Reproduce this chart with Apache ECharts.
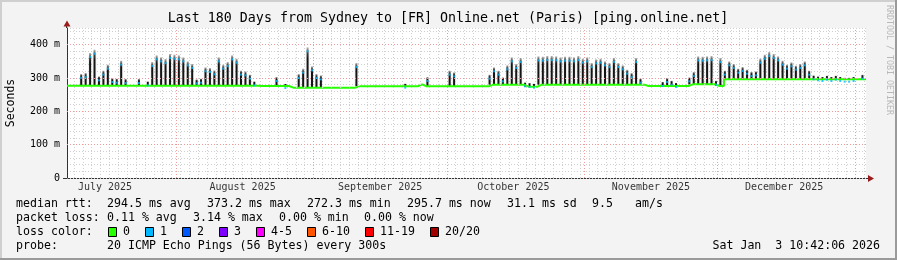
<!DOCTYPE html>
<html><head><meta charset="utf-8">
<script src="https://cdn.jsdelivr.net/npm/echarts@6/dist/echarts.min.js"></script>
<style>html,body{margin:0;padding:0;background:#f3f3f3}#c{width:897px;height:260px}</style>
</head><body><div id="c"></div>
<script>
// ---------- data ----------
const chartTitle = 'Last 180 Days from Sydney to [FR] Online.net (Paris) [ping.online.net]';
const yAxisName = 'Seconds';
const startTime = '2025-07-07T10:42:06Z';
const endTime = '2026-01-03T10:42:06Z';
const yTickValues = [0, 100, 200, 300, 400];
const monthStarts = ['2025-08-01', '2025-09-01', '2025-10-01', '2025-11-01', '2025-12-01', '2026-01-01'];
const monthLabels = ['July 2025', 'August 2025', 'September 2025', 'October 2025', 'November 2025', 'December 2025'];
const monthLabelDates = ['2025-07-16', '2025-08-16', '2025-09-16', '2025-10-16', '2025-11-16', '2025-12-16'];

// daily baseline of the median RTT (ms), day 0 = 7 Jul 2025
const baseline = [
  277,277,277,277,277,277,277,277,277,277,
  277,277,277,277,277,277,277,277,277,277,
  277,277,277,277,277,277,277,277,277,277,
  277,277,277,277,277,277,277,277,277,277,
  277,277,277,276,276,276,276,276,276,276,
  271,271,271,271,271,271,271,271,271,271,
  271,271,271,271,271,275,275,275,275,275,
  275,275,275,275,275,275,275,275,275,281,
  275,275,275,275,275,275,275,275,275,275,
  275,275,275,275,275,280,280,280,280,280,
  280,280,280,274,274,274,280,280,280,280,
  280,280,280,280,280,280,280,280,280,280,
  280,280,280,280,280,280,280,280,280,280,
  276,276,276,276,276,276,276,276,276,276,
  281,281,281,281,281,281,276,276,296,296,
  296,296,296,296,296,296,296,296,296,296,
  296,296,296,296,296,296,296,296,296,296,
  296,296,296,296,296,296,296,296,296,296
];
// daily peak of the smoke (ms), 0 = no peak that day
const peak = [
  0,0,0,312,315,375,385,305,322,340,
  300,298,352,297,0,0,297,0,290,348,
  368,362,357,372,370,368,362,350,342,296,
  298,332,330,323,362,340,348,368,358,322,
  320,310,290,0,0,0,0,303,0,282,
  0,0,312,328,392,335,312,308,0,0,
  0,0,0,0,0,345,0,0,0,0,
  0,0,0,0,0,0,283,0,0,0,
  0,303,0,0,0,0,322,317,0,0,
  0,0,0,0,0,310,332,322,302,338,
  362,342,360,287,285,283,365,364,366,366,
  365,362,364,364,362,366,358,362,345,356,
  358,350,345,360,345,338,325,315,360,298,
  0,0,0,0,288,300,292,285,0,0,
  302,318,365,364,365,366,292,360,322,350,
  342,328,333,325,318,320,358,370,378,372,
  365,352,340,347,337,342,350,322,308,305,
  303,307,303,307,303,301,301,303,0,310
];

const statsMedian = ['median rtt:', '294.5 ms avg', '373.2 ms max', '272.3 ms min', '295.7 ms now', '31.1 ms sd', '9.5', 'am/s'];
const statsLoss = ['packet loss:', '0.11 % avg', '3.14 % max', '0.00 % min', '0.00 % now'];
const lossLabels = ['0', '1', '2', '3', '4-5', '6-10', '11-19', '20/20'];
const lossColors = ['#26ff00', '#00b8ff', '#0059ff', '#7e00ff', '#ff00ff', '#ff5500', '#ff0000', '#a10000'];
const probeText = ['probe:', '20 ICMP Echo Pings (56 Bytes) every 300s'];
const stampText = 'Sat Jan  3 10:42:06 2026';

// ---------- build ----------
const DAY = 86400000;
const t0 = Date.parse(startTime), t1 = Date.parse(endTime);
const MONO = '"DejaVu Sans Mono", monospace';

const lineData = baseline.map((v, d) => [t0 + d * DAY, v]);
lineData.push([t1, baseline[baseline.length - 1]]);
const smokeData = [];
peak.forEach((p, d) => { if (p > 0) smokeData.push([t0 + (d + 0.2) * DAY, baseline[d], p]); });

const minorX = [];
for (let k = Math.ceil(t0 / DAY / 2) * 2; k * DAY <= t1; k += 2) minorX.push({ xAxis: k * DAY });
const majorX = monthStarts.map(m => ({ xAxis: Date.parse(m + 'T00:00:00Z') }));
const majorY = yTickValues.filter(v => v > 0).map(v => ({ yAxis: v }));

const smokeGrad = new echarts.graphic.LinearGradient(0, 0, 0, 1, [
  { offset: 0, color: 'rgba(100,100,100,0.45)' },
  { offset: 0.12, color: '#4a4a4a' },
  { offset: 0.28, color: '#151515' },
  { offset: 1, color: '#151515' }
]);

// legend graphics
const g = [];
const txt = (x, y, s, extra) => g.push(Object.assign({ type: 'text', x, y, style: { text: s, font: '11.6px ' + MONO, fill: '#000', verticalAlign: 'middle' } }, extra || {}));
const medX = [16, 107, 207, 307, 407, 507, 592, 635];
statsMedian.forEach((s, i) => txt(medX[i], 204, s));
const lossX = [16, 107, 193, 279, 364];
statsLoss.forEach((s, i) => txt(lossX[i], 218, s));
txt(16, 232, 'loss color:');
const boxX = [108, 145, 182, 219, 256, 307, 365, 430];
lossLabels.forEach((s, i) => {
  g.push({ type: 'rect', shape: { x: boxX[i] + 0.5, y: 227.5, width: 8, height: 9 }, style: { fill: lossColors[i], stroke: '#000', lineWidth: 1 } });
  txt(boxX[i] + 15, 232, s);
});
txt(16, 246, probeText[0]);
txt(107, 246, probeText[1]);
g.push({ type: 'text', x: 880, y: 246, style: { text: stampText, font: '11.6px ' + MONO, fill: '#000', align: 'right', verticalAlign: 'middle' } });
// title, axis name, watermark
g.push({ type: 'text', x: 448, y: 19, style: { text: chartTitle, font: '13.3px ' + MONO, fill: '#000', align: 'center', verticalAlign: 'middle' } });
g.push({ type: 'text', x: 11, y: 103, rotation: Math.PI / 2, style: { text: yAxisName, font: '11.5px ' + MONO, fill: '#000', align: 'center', verticalAlign: 'middle' } });
g.push({ type: 'text', x: 889, y: 60, rotation: -Math.PI / 2, style: { text: 'RRDTOOL / TOBI OETIKER', font: '8.3px ' + MONO, fill: '#b8b8b8', align: 'center', verticalAlign: 'middle' } });
// frame
g.push({ type: 'rect', shape: { x: 0, y: 0, width: 897, height: 2 }, style: { fill: '#cfcfcf' } });
g.push({ type: 'rect', shape: { x: 0, y: 0, width: 2, height: 260 }, style: { fill: '#cfcfcf' } });
g.push({ type: 'rect', shape: { x: 895, y: 0, width: 2, height: 260 }, style: { fill: '#9a9a9a' } });
g.push({ type: 'rect', shape: { x: 0, y: 258, width: 897, height: 2 }, style: { fill: '#9a9a9a' } });
// axis extensions + arrows
g.push({ type: 'line', shape: { x1: 66.5, y1: 28, x2: 66.5, y2: 24 }, style: { stroke: '#333', lineWidth: 1 } });
g.push({ type: 'polygon', shape: { points: [[67, 20.5], [63.5, 26.5], [70.5, 26.5]] }, style: { fill: '#9b1c1c' } });
g.push({ type: 'line', shape: { x1: 63, y1: 178.5, x2: 870, y2: 178.5 }, style: { stroke: '#333', lineWidth: 1 } });
g.push({ type: 'polygon', shape: { points: [[874, 178.5], [868, 175], [868, 182]] }, style: { fill: '#9b1c1c' } });

const option = {
  animation: false,
  useUTC: true,
  backgroundColor: '#f3f3f3',
  grid: { left: 67, top: 28, width: 799, height: 150, outerBoundsMode: 'none', show: true, backgroundColor: '#ffffff', borderWidth: 0 },
  xAxis: {
    type: 'time', min: t0, max: t1,
    axisLine: { show: false }, axisTick: { show: false }, axisLabel: { show: false }, splitLine: { show: false }
  },
  yAxis: {
    type: 'value', min: 0, max: 450, interval: 20,
    axisLine: { show: true, lineStyle: { color: '#333', width: 1 } },
    axisTick: { show: false },
    axisLabel: {
      margin: 7, color: '#000', fontFamily: MONO, fontSize: 10,
      formatter: v => (yTickValues.indexOf(v) >= 0 ? (v === 0 ? '0' : v + ' m') : '')
    },
    splitLine: { show: true, lineStyle: { color: '#cfcfcf', type: [1, 2], width: 1 } }
  },
  series: [
    {
      type: 'line', name: 'grid', data: [], silent: true,
      markLine: {
        silent: true, symbol: 'none', label: { show: false }, animation: false,
        data: minorX.map(d => Object.assign({ lineStyle: { color: '#cfcfcf', type: [1, 2], width: 1 } }, d))
          .concat(majorX.map(d => Object.assign({ lineStyle: { color: '#f09a9a', type: [1, 2], width: 1 } }, d)))
          .concat(majorY.map(d => Object.assign({ lineStyle: { color: '#f09a9a', type: [1, 2], width: 1 } }, d)))
      }
    },
    {
      type: 'custom', name: 'smoke', data: smokeData, clip: true, z: 3,
      encode: { x: 0, y: [1, 2] },
      renderItem: (params, api) => {
        const t = api.value(0), b = api.value(1), p = api.value(2);
        const top = api.coord([t, p]), bot = api.coord([t, b]);
        const h = bot[1] - top[1];
        return {
          type: 'group', children: [
            { type: 'rect', shape: { x: top[0] - 2, y: top[1] + 3, width: 4, height: Math.max(h - 3, 0) }, style: { fill: 'rgba(0,0,0,0.06)' } },
            { type: 'rect', shape: { x: top[0] - 1, y: top[1], width: 2, height: h }, style: { fill: smokeGrad } }
          ]
        };
      }
    },
    {
      type: 'line', name: 'median', data: lineData, step: 'end', symbol: 'none', z: 4,
      lineStyle: { color: '#26ff00', width: 2 }
    },
    {
      type: 'scatter', name: 'medianTop', data: smokeData.map(r => [r[0], r[2]]), z: 5,
      symbol: 'rect', symbolSize: [2, 2], symbolOffset: [0, 4], itemStyle: { color: '#00b8ff' }
    },
    {
      type: 'scatter', name: 'months', z: 6, clip: false, silent: true,
      data: monthLabelDates.map((d, i) => ({ value: [Date.parse(d + 'T00:00:00Z'), 0], name: monthLabels[i] })),
      symbolSize: 0.1, itemStyle: { color: 'transparent' },
      label: { show: true, position: 'bottom', distance: 4, formatter: p => p.name, color: '#000', fontFamily: MONO, fontSize: 10 }
    }
  ],
  graphic: { elements: g }
};
const chart = echarts.init(document.getElementById('c'), null, { renderer: 'canvas' });
chart.setOption(option);
</script></body></html>
